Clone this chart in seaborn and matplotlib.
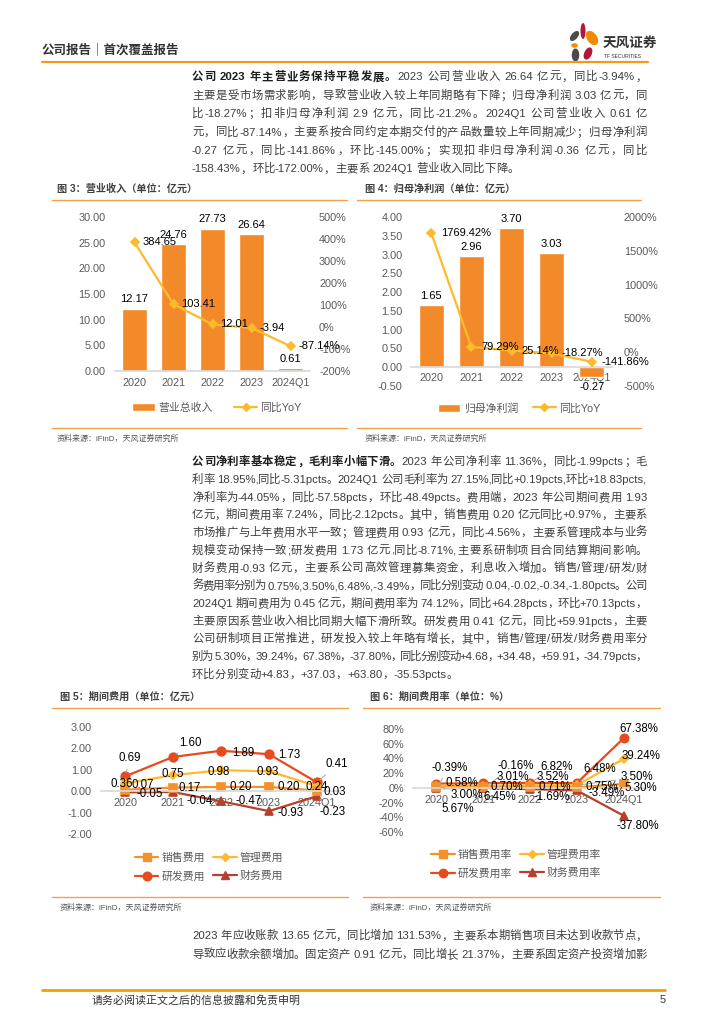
import re
import numpy as np
import pandas as pd
import matplotlib
matplotlib.use('Agg')
import matplotlib.pyplot as plt
import seaborn as sns
from matplotlib.font_manager import FontProperties
from matplotlib.lines import Line2D
from matplotlib.patches import Patch, Ellipse
from matplotlib.ticker import FuncFormatter

# ---------------- data ----------------
years = ['2020', '2021', '2022', '2023', '2024Q1']

revenue = [12.17, 24.76, 27.73, 26.64, 0.61]
revenue_yoy = [384.65, 103.41, 12.01, -3.94, -87.14]
revenue_yoy_labels = ['384.65', '103.41', '12.01', '-3.94', '-87.14%']

net_profit = [1.65, 2.96, 3.70, 3.03, -0.27]
net_profit_yoy = [1769.42, 79.29, 25.14, -18.27, -141.86]

sales_exp = [0.07, 0.17, 0.20, 0.20, 0.03]
admin_exp = [0.36, 0.75, 0.98, 0.93, 0.24]
rd_exp = [0.69, 1.60, 1.89, 1.73, 0.41]
fin_exp = [-0.05, -0.04, -0.47, -0.93, -0.23]

sales_rate = [0.58, 0.70, 0.71, 0.75, 5.30]
admin_rate = [3.00, 3.01, 3.52, 3.50, 39.24]
rd_rate = [5.67, 6.45, 6.82, 6.48, 67.38]
fin_rate = [-0.39, -0.16, -1.69, -3.49, -37.80]

para1 = [
    [('公司 2023 年主营业务保持平稳发展。', 'bold'), ('2023 公司营业收入 26.64 亿元，同比-3.94%，', 'normal')],
    [('主要是受市场需求影响，导致营业收入较上年同期略有下降；归母净利润 3.03 亿元，同', 'normal')],
    [('比-18.27%；扣非归母净利润 2.9 亿元，同比-21.2%。2024Q1 公司营业收入 0.61 亿', 'normal')],
    [('元，同比-87.14%，主要系按合同约定本期交付的产品数量较上年同期减少；归母净利润', 'normal')],
    [('-0.27 亿元，同比-141.86%，环比-145.00%；实现扣非归母净利润-0.36 亿元，同比', 'normal')],
    [('-158.43%，环比-172.00%，主要系 2024Q1 营业收入同比下降。', 'normal')],
]
para2 = [
    [('公司净利率基本稳定，毛利率小幅下滑。', 'bold'), ('2023 年公司净利率 11.36%，同比-1.99pcts；毛', 'normal')],
    [('利率 18.95%,同比-5.31pcts。2024Q1 公司毛利率为 27.15%,同比+0.19pcts,环比+18.83pcts,', 'normal')],
    [('净利率为-44.05%，同比-57.58pcts，环比-48.49pcts。费用端，2023 年公司期间费用 1.93', 'normal')],
    [('亿元，期间费用率 7.24%，同比-2.12pcts。其中，销售费用 0.20 亿元同比+0.97%，主要系', 'normal')],
    [('市场推广与上年费用水平一致；管理费用 0.93 亿元，同比-4.56%，主要系管理成本与业务', 'normal')],
    [('规模变动保持一致;研发费用 1.73 亿元,同比-8.71%,主要系研制项目合同结算期间影响。', 'normal')],
    [('财务费用-0.93 亿元，主要系公司高效管理募集资金，利息收入增加。销售/管理/研发/财', 'normal')],
    [('务费用率分别为 0.75%,3.50%,6.48%,-3.49%，同比分别变动 0.04,-0.02,-0.34,-1.80pcts。公司', 'normal')],
    [('2024Q1 期间费用为 0.45 亿元，期间费用率为 74.12%，同比+64.28pcts，环比+70.13pcts，', 'normal')],
    [('主要原因系营业收入相比同期大幅下滑所致。研发费用 0.41 亿元，同比+59.91pcts，主要', 'normal')],
    [('公司研制项目正常推进，研发投入较上年略有增长，其中，销售/管理/研发/财务费用率分', 'normal')],
    [('别为 5.30%，39.24%，67.38%，-37.80%，同比分别变动+4.68，+34.48，+59.91，-34.79pcts，', 'normal')],
    [('环比分别变动+4.83，+37.03，+63.80，-35.53pcts。', 'normal')],
]
para3 = [
    [('2023 年应收账款 13.65 亿元，同比增加 131.53%，主要系本期销售项目未达到收款节点，', 'normal')],
    [('导致应收款余额增加。固定资产 0.91 亿元，同比增长 21.37%，主要系固定资产投资增加影', 'normal')],
]

# ---------------- style ----------------
sns.set_theme(style='white')
FAM = ['Liberation Sans', 'Noto Sans CJK SC']
plt.rcParams['font.family'] = FAM
plt.rcParams['axes.unicode_minus'] = False

BAR = '#F28A2A'
GOLD = '#FDBA2C'
SALES = '#F5912A'
RD = '#E64A1E'
FIN = '#B5402C'
RULE = '#F4A04A'
TICK = '#595959'
TXT = '#3d3d3d'

W, H = 724, 1024
fig = plt.figure(figsize=(W / 100, H / 100), dpi=100)
renderer = fig.canvas.get_renderer()


def fx(x):
    return x / W


def fy(y):
    return 1 - y / H


def rule(x0, x1, y, color=RULE, lw=1.0):
    fig.add_artist(Line2D([fx(x0), fx(x1)], [fy(y), fy(y)], color=color, lw=lw,
                          transform=fig.transFigure))


def ftext(x, y, s, **kw):
    kw.setdefault('va', 'center')
    fig.text(fx(x), fy(y), s, **kw)


# ---- justified body text ----
CJK = re.compile(r'[\u3000-\u303f\u4e00-\u9fff\uff00-\uffef]')
BODY = 8.2


def split_tokens(s):
    toks, word, gap = [], '', False
    for ch in s:
        if ch == ' ' or CJK.match(ch):
            if word:
                toks.append((word, gap))
                gap, word = False, ''
            if ch == ' ':
                gap = True
            else:
                toks.append((ch, gap))
                gap = False
        else:
            word += ch
    if word:
        toks.append((word, gap))
    return toks


def adv(s, prop):
    w1 = renderer.get_text_width_height_descent('|' + s + '|', prop, ismath=False)[0]
    w0 = renderer.get_text_width_height_descent('||', prop, ismath=False)[0]
    return w1 - w0


def draw_line(segs, x0, x1, y, justify=True):
    items = []
    for text, weight in segs:
        prop = FontProperties(family=FAM, size=BODY, weight=weight)
        for tok, gap in split_tokens(text):
            items.append((tok, gap, prop, weight))
    widths = [adv(t, p) for t, g, p, w in items]
    space = adv(' ', FontProperties(family=FAM, size=BODY))
    natural = sum(widths) + space * sum(1 for it in items[1:] if it[1])
    extra = (x1 - x0 - natural) / (len(items) - 1) if justify else 0
    x = x0
    for i, (tok, gap, prop, weight) in enumerate(items):
        if gap and i > 0:
            x += space
        col = '#1e1e1e' if weight == 'bold' else TXT
        fig.text(fx(x), fy(y + 4.3), tok, fontproperties=prop, color=col,
                 ha='left', va='baseline')
        x += widths[i] + extra


def paragraph(lines, x0, x1, y0, step, justify_last=False):
    for k, segs in enumerate(lines):
        last = k == len(lines) - 1
        draw_line(segs, x0, x1, y0 + k * step, justify=(not last) or justify_last)


# ---------------- header / footer ----------------
ftext(42, 50, '公司报告｜首次覆盖报告', fontsize=9, fontweight='bold', color='#333333')
rule(42, 648, 62, color='#F39A1E', lw=1.6)

logo = fig.add_axes([fx(569), fy(63), 32 / W, 40 / H])
logo.set_xlim(0, 32)
logo.set_ylim(40, 0)
logo.axis('off')
for (cx, cy, w, h, ang, col) in [
    (14, 8, 5, 16, 0, '#B0173A'),
    (23, 15, 10, 16, -35, '#F08A00'),
    (5.5, 13, 6.5, 12, 40, '#4a4a4a'),
    (5.5, 22.5, 6.5, 4.5, 0, '#F08A00'),
    (6.5, 32, 7.5, 13, 0, '#4a4a4a'),
    (19, 30.5, 7.5, 13, 25, '#B0173A'),
]:
    logo.add_patch(Ellipse((cx, cy), w, h, angle=ang, color=col, lw=0))
ftext(603, 43, '天风证券', fontsize=9.8, fontweight='bold', color='#333333')
ftext(604, 57, 'TF SECURITIES', fontsize=3.6, color='#333333')

rule(42, 665, 990, color='#F0A000', lw=2)
ftext(92, 1000, '请务必阅读正文之后的信息披露和免责申明', fontsize=7.9, color='#333333')
ftext(660, 1000, '5', fontsize=7.9, color='#333333')

# ---------------- paragraphs ----------------
paragraph(para1, 192, 647, 76, 18.4)
paragraph(para2, 192, 647, 461, 17.7)
paragraph(para3, 192, 647, 935, 18.4, justify_last=True)

# ---------------- figure frames ----------------
frames = [
    (57, 52, 347, 189, 428, '图 3：营业收入（单位：亿元）'),
    (365, 357, 641, 189, 428, '图 4：归母净利润（单位：亿元）'),
    (60, 52, 348, 697, 897, '图 5：期间费用（单位：亿元）'),
    (370, 363, 660, 697, 897, '图 6：期间费用率（单位：%）'),
]
for tx, x0, x1, ty, by, title in frames:
    ftext(tx, ty, title, fontsize=7.3, fontweight='bold', color='#404040')
    rule(x0, x1, ty + 11)
    rule(x0, x1, by)
    ftext(tx, by + 10.5, '资料来源：iFinD，天风证券研究所', fontsize=5.8, color='#555555')


def clean(ax):
    for s in ax.spines.values():
        s.set_visible(False)
    ax.set_xlabel('')
    ax.set_ylabel('')
    ax.tick_params(axis='both', which='major', length=0, labelsize=7.8, colors=TICK)


# ---------------- Figure 3 ----------------
ax3 = fig.add_axes([fx(115), fy(371), 195 / W, 154 / H])
sns.barplot(x=years, y=revenue, color=BAR, saturation=1, width=0.64, ax=ax3)
ax3.bar_label(ax3.containers[0], fmt='%.2f', padding=3, fontsize=8, color='black')
ax3.set_ylim(0, 30)
ax3.set_yticks(np.arange(0, 31, 5))
ax3.yaxis.set_major_formatter(FuncFormatter(lambda v, p: f'{v:.2f}'))
clean(ax3)
ax3.spines['bottom'].set_visible(True)
ax3.spines['bottom'].set_color('#D9D9D9')
ax3.set_xticks(np.arange(-0.5, len(years), 1), minor=True)
ax3.tick_params(axis='x', which='minor', length=3, color='#D9D9D9', direction='out')
ax3.tick_params(axis='x', pad=5)
ax3.tick_params(axis='y', pad=7)

ax3b = ax3.twinx()
sns.pointplot(x=years, y=revenue_yoy, color=GOLD, markers='D', errorbar=None,
              markersize=4.5, linewidth=1.6, ax=ax3b)
ax3b.set_ylim(-200, 500)
ax3b.set_yticks(np.arange(-200, 501, 100))
ax3b.yaxis.set_major_formatter(FuncFormatter(lambda v, p: f'{v:.0f}%'))
clean(ax3b)
ax3b.tick_params(axis='y', pad=6.5)
for i, (v, s) in enumerate(zip(revenue_yoy, revenue_yoy_labels)):
    ax3b.annotate(s, (i, v), xytext=(8, 0), textcoords='offset pixels',
                  ha='left', va='center', fontsize=8, color='black')

fig.legend([Patch(facecolor=BAR), Line2D([], [], color=GOLD, marker='D', markersize=4, lw=1.6)],
           ['营业总收入', '同比YoY'], loc='center', bbox_to_anchor=(fx(217), fy(408)),
           ncol=2, frameon=False, fontsize=7.8, labelcolor=TICK, handlelength=2.1,
           handleheight=0.75, handletextpad=0.3, columnspacing=2.0)

# ---------------- Figure 4 ----------------
ax4 = fig.add_axes([fx(411), fy(386), 201 / W, 169 / H])
sns.barplot(x=years, y=net_profit, color=BAR, saturation=1, width=0.62, ax=ax4)
ax4.bar_label(ax4.containers[0], fmt='%.2f', padding=3, fontsize=8, color='black')
ax4.set_ylim(-0.5, 4)
ax4.set_yticks(np.arange(-0.5, 4.01, 0.5))
ax4.yaxis.set_major_formatter(FuncFormatter(lambda v, p: f'{v:.2f}'))
clean(ax4)
ax4.spines['bottom'].set_visible(True)
ax4.spines['bottom'].set_position(('data', 0))
ax4.spines['bottom'].set_color('#D9D9D9')
ax4.tick_params(axis='x', pad=4.5)
ax4.tick_params(axis='y', pad=6)

ax4b = ax4.twinx()
sns.pointplot(x=years, y=net_profit_yoy, color=GOLD, markers='D', errorbar=None,
              markersize=4.5, linewidth=1.6, ax=ax4b)
ax4b.set_ylim(-500, 2000)
ax4b.set_yticks(np.arange(-500, 2001, 500))
ax4b.yaxis.set_major_formatter(FuncFormatter(lambda v, p: f'{v:.0f}%'))
clean(ax4b)
ax4b.tick_params(axis='y', pad=8.5)
for i, v in enumerate(net_profit_yoy):
    ax4b.annotate(f'{v:.2f}%', (i, v), xytext=(10, 0), textcoords='offset pixels',
                  ha='left', va='center', fontsize=8, color='black')

fig.legend([Patch(facecolor=BAR), Line2D([], [], color=GOLD, marker='D', markersize=4, lw=1.6)],
           ['归母净利润', '同比YoY'], loc='center', bbox_to_anchor=(fx(519), fy(408)),
           ncol=2, frameon=False, fontsize=7.8, labelcolor=TICK, handlelength=2.1,
           handleheight=0.75, handletextpad=0.3, columnspacing=1.4)


# ---------------- line charts ----------------
def label(ax, i, v, text, dx, dy, leader):
    kw = {}
    if leader:
        kw['arrowprops'] = dict(arrowstyle='-', color='#A6A6A6', lw=0.7,
                                shrinkA=1, shrinkB=3)
    ax.annotate(text, (i, v), xytext=(dx, dy), textcoords='offset pixels',
                ha='center', va='center', fontsize=8.3, color='black', **kw)


def line_chart(rect, series, ylim, step, fmt, offsets, legend_xy):
    ax = fig.add_axes(rect)
    for name, vals, col, mk, ms in series:
        sns.pointplot(x=years, y=vals, color=col, markers=mk, errorbar=None,
                      markersize=ms, linewidth=1.6, ax=ax)
    ax.set_xlim(-0.5, len(years) - 0.5)
    ax.set_ylim(*ylim)
    ax.set_yticks(np.arange(ylim[0], ylim[1] + step / 2, step))
    ax.yaxis.set_major_formatter(FuncFormatter(fmt))
    clean(ax)
    ax.spines['bottom'].set_visible(True)
    ax.spines['bottom'].set_position(('data', 0))
    ax.spines['bottom'].set_color('#D9D9D9')
    ax.tick_params(axis='x', pad=5)
    ax.tick_params(axis='y', pad=6.5)
    for name, vals, col, mk, ms in series:
        for i, v in enumerate(vals):
            dx, dy, lead = offsets[name][i]
            text = f'{v:.2f}%' if '率' in name else f'{v:.2f}'
            label(ax, i, v, text, dx, dy, lead)
    by_name = {s[0]: s for s in series}
    order = [n for n in offsets if n in by_name]
    order = [order[0], order[2], order[1], order[3]]
    handles = [Line2D([], [], color=by_name[n][2], marker=by_name[n][3],
                      markersize=by_name[n][4], lw=1.6) for n in order]
    fig.legend(handles, order, loc='center', bbox_to_anchor=legend_xy, ncol=2,
               frameon=False, fontsize=7.8, labelcolor=TICK, handlelength=2.2,
               handletextpad=0.25, columnspacing=0.8, labelspacing=0.75)
    return ax


exp_series = [
    ('研发费用', rd_exp, RD, 'o', 6.2),
    ('财务费用', fin_exp, FIN, '^', 5.8),
    ('管理费用', admin_exp, GOLD, 'D', 3.6),
    ('销售费用', sales_exp, SALES, 's', 5.8),
]
exp_offsets = {
    '销售费用': [(18, 5, False), (17, 0, False), (20, 0, False), (20, 0, False), (18, -1, False)],
    '管理费用': [(-3, -1, False), (0, 1, False), (-2, -2, False), (-1, -1, False), (0, -1, False)],
    '研发费用': [(5, 18, True), (17, 14, True), (22, -2, False), (20, -1, False), (20, 18, True)],
    '财务费用': [(25, -2, False), (27, -9, True), (28, 0, False), (22, -2, False), (16, -16, True)],
}
line_chart([fx(101), fy(834), 240 / W, 107 / H], exp_series, (-2, 3), 1,
           lambda v, p: f'{v:.2f}', exp_offsets, (fx(209), fy(867)))

rate_series = [
    ('研发费用率', rd_rate, RD, 'o', 6.0),
    ('财务费用率', fin_rate, FIN, '^', 5.6),
    ('管理费用率', admin_rate, GOLD, 'D', 3.6),
    ('销售费用率', sales_rate, SALES, 's', 5.6),
]
rate_offsets = {
    '销售费用率': [(25, 4, False), (24, 0, False), (25, 0, False), (25, 0, False), (17, -4, False)],
    '管理费用率': [(30, -9, True), (30, 9, True), (23, 8, True), (60, 8, True), (17, 3, False)],
    '研发费用率': [(21, -25, False), (17, -14, False), (27, 16, True), (23, 14, True), (15, 9, False)],
    '财务费用率': [(13, 20, True), (32, 22, True), (22, -8, False), (30, -3, False), (14, -10, False)],
}
line_chart([fx(413), fy(832), 234 / W, 103 / H], rate_series, (-60, 80), 20,
           lambda v, p: f'{v:.0f}%', rate_offsets, (fx(516), fy(864)))

fig.savefig('out.png', dpi=100)
